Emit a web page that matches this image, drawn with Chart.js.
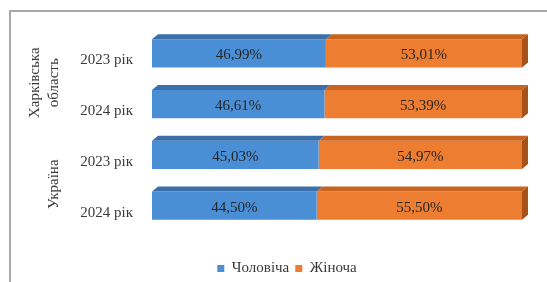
<!DOCTYPE html>
<html>
<head>
<meta charset="utf-8">
<script src="https://cdn.jsdelivr.net/npm/chart.js@4.4.0/dist/chart.umd.min.js"></script>
<style>
  body { margin: 0; background: #fff; }
  #wrap { position: relative; width: 547px; height: 282px; }
  #frame { position: absolute; left: 9px; top: 10px; right: 0; bottom: 0; border-left: 2px solid #a8a8a8; border-top: 2px solid #a8a8a8; }
  canvas { position: absolute; left: 0; top: 0; }
</style>
</head>
<body>
<div id="wrap"><div id="frame"></div><canvas id="myChart" width="547" height="282"></canvas></div>
<script>
// categories and values
var years = ['2023 рік', '2024 рік', '2023 рік', '2024 рік'];
var groups = [['Харківська', 'область'], ['Україна']];
var groupSize = [2, 2];
var male = [46.99, 46.61, 45.03, 44.50];
var female = [53.01, 53.39, 54.97, 55.50];
var seriesNames = ['Чоловіча', 'Жіноча'];

var serif = 'Liberation Serif';

// fake 3D faces + value labels
var bars3d = {
    id: 'bars3d',
    afterLayout: function (chart) {
        // push the legend a little lower, like the original
        chart.legend.top += 4;
        chart.legend.bottom += 4;
    },
    afterDatasetsDraw: function (chart) {
        var c = chart.ctx;
        var dx = 6, dy = 5;
        var n = chart.data.datasets.length;
        chart.data.datasets.forEach(function (ds, di) {
            var meta = chart.getDatasetMeta(di);
            meta.data.forEach(function (bar, i) {
                var p = bar.getProps(['x', 'y', 'base', 'height'], true);
                var left = Math.min(p.base, p.x), right = Math.max(p.base, p.x);
                var top = p.y - p.height / 2, bottom = p.y + p.height / 2;
                c.save();
                c.fillStyle = ds.topColor;
                c.beginPath();
                c.moveTo(left, top);
                c.lineTo(left + dx, top - dy);
                c.lineTo(right + dx, top - dy);
                c.lineTo(right, top);
                c.closePath();
                c.fill();
                if (di === n - 1) {
                    c.fillStyle = ds.sideColor;
                    c.beginPath();
                    c.moveTo(right, top);
                    c.lineTo(right + dx, top - dy);
                    c.lineTo(right + dx, bottom - dy);
                    c.lineTo(right, bottom);
                    c.closePath();
                    c.fill();
                }
                // value label
                c.fillStyle = '#262626';
                c.font = '15px "' + serif + '"';
                c.textAlign = 'center';
                c.textBaseline = 'middle';
                c.fillText(ds.data[i].toFixed(2).replace('.', ',') + '%', (left + right) / 2, p.y + 2);
                c.restore();
            });
        });
    }
};

// rotated group captions on the left
var groupLabels = {
    id: 'groupLabels',
    afterDraw: function (chart) {
        var c = chart.ctx;
        var y = chart.scales.y;
        var start = 0;
        c.save();
        c.fillStyle = '#3a3a3a';
        c.font = '15px "' + serif + '"';
        c.textAlign = 'center';
        c.textBaseline = 'middle';
        groups.forEach(function (lines, g) {
            var sum = 0;
            for (var k = start; k < start + groupSize[g]; k++) sum += y.getPixelForValue(k);
            var cy = sum / groupSize[g] + 4;
            start += groupSize[g];
            lines.forEach(function (line, li) {
                var cx = 54 - (lines.length - 1 - li) * 19;
                c.save();
                c.translate(cx, cy);
                c.rotate(-Math.PI / 2);
                c.fillText(line, 0, 0);
                c.restore();
            });
        });
        c.restore();
    }
};

var ctx = document.getElementById('myChart').getContext('2d');
var chart = new Chart(ctx, {
    type: 'bar',
    data: {
        labels: years,
        datasets: [{
            label: seriesNames[0],
            data: male,
            backgroundColor: '#4a8fd6',
            topColor: '#3a6faa',
            barPercentage: 0.56,
            categoryPercentage: 1
        }, {
            label: seriesNames[1],
            data: female,
            backgroundColor: '#ed7d31',
            topColor: '#c8641f',
            sideColor: '#a65219',
            barPercentage: 0.56,
            categoryPercentage: 1
        }]
    },
    options: {
        responsive: false,
        animation: false,
        indexAxis: 'y',
        layout: { padding: { left: 52, right: 25, top: 26, bottom: 0 } },
        scales: {
            x: {
                stacked: true, min: 0, max: 100,
                grid: { display: false, drawTicks: false },
                border: { display: false },
                ticks: { display: false },
                afterFit: function (s) { s.height = 20; }
            },
            y: {
                stacked: true,
                grid: { display: false, drawTicks: false },
                border: { display: false },
                ticks: { color: '#3a3a3a', font: { family: serif, size: 15 }, padding: 19, labelOffset: 7 },
                afterFit: function (s) { s.width = 100; }
            }
        },
        plugins: {
            legend: {
                position: 'bottom',
                labels: { boxWidth: 7, boxHeight: 7, padding: 6, color: '#3a3a3a', font: { family: serif, size: 15 } }
            },
            tooltip: { enabled: false }
        }
    },
    plugins: [bars3d, groupLabels]
});
</script>
</body>
</html>
